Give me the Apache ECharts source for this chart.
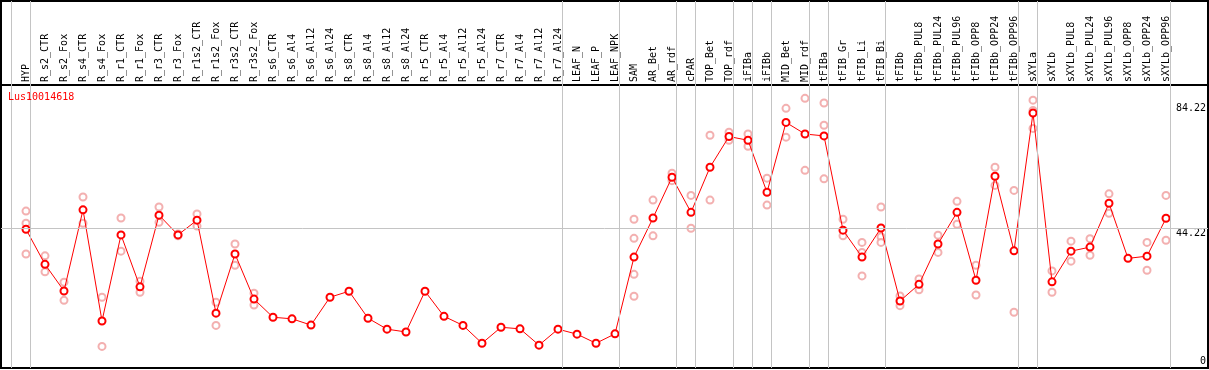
<!DOCTYPE html>
<html>
<head>
<meta charset="utf-8">
<script src="https://cdn.jsdelivr.net/npm/echarts@6/dist/echarts.min.js"></script>
<style>html,body{margin:0;padding:0;background:#fff}#c{width:1209px;height:370px}</style>
</head>
<body>
<div id="c"></div>
<script>
const categories = ["HYP","R_s2_CTR","R_s2_Fox","R_s4_CTR","R_s4_Fox","R_r1_CTR","R_r1_Fox","R_r3_CTR","R_r3_Fox","R_r1s2_CTR","R_r1s2_Fox","R_r3s2_CTR","R_r3s2_Fox","R_s6_CTR","R_s6_Al4","R_s6_Al12","R_s6_Al24","R_s8_CTR","R_s8_Al4","R_s8_Al12","R_s8_Al24","R_r5_CTR","R_r5_Al4","R_r5_Al12","R_r5_Al24","R_r7_CTR","R_r7_Al4","R_r7_Al12","R_r7_Al24","LEAF_N","LEAF_P","LEAF_NPK","SAM","AR_Bet","AR_rdf","cPAR","TOP_Bet","TOP_rdf","iFIBa","iFIBb","MID_Bet","MID_rdf","tFIBa","tFIB_Gr","tFIB_Li","tFIB_Bi","tFIBb","tFIBb_PUL8","tFIBb_PUL24","tFIBb_PUL96","tFIBb_OPP8","tFIBb_OPP24","tFIBb_OPP96","sXYLa","sXYLb","sXYLb_PUL8","sXYLb_PUL24","sXYLb_PUL96","sXYLb_OPP8","sXYLb_OPP24","sXYLb_OPP96"];
const means = [43.9,32.7,24.2,50.1,14.6,42.1,25.5,48.4,42.1,46.8,17.1,36.0,21.6,15.8,15.3,13.3,22.2,24.1,15.5,12.0,11.1,24.1,16.1,13.2,7.5,12.6,12.1,6.9,12.0,10.4,7.5,10.5,35.0,47.5,60.5,49.3,63.7,73.5,72.3,55.7,78.0,74.3,73.7,43.6,35.0,44.3,21.0,26.3,39.2,49.3,27.6,60.8,37.0,81.0,27.1,36.9,38.2,52.2,34.6,35.3,47.4];
const replicates = [[49.7,45.8,36.0],[35.4,30.3],[27.0,21.2],[54.2,45.8],[22.2,6.5],[47.5,36.9],[27.3,23.8],[51.0,46.1],[42.4,41.8],[48.8,44.9],[20.6,13.2],[39.2,32.4],[23.5,19.7],
[],[],[],[],[],[],[],[],[],[],[],[],[],[],[],[],[],[],[],
[47.1,41.0,29.5,22.5],[53.2,41.8],[61.8,59.4],[54.7,44.2],[73.9,53.2],[74.9,72.3],[74.3,70.4],[60.2,51.6],[82.5,73.3],[85.7,62.7],[84.2,77.1,60.0],[47.1,41.8],[39.7,36.5,29.0],[51.0,41.5,39.7],[22.6,19.5],[28.0,24.6],[42.0,36.5],[52.8,45.5],[32.4,22.9],[63.7,57.9],[56.3,17.4],[85.1,81.8,76.1],[30.6,23.8],[40.1,33.7],[40.9,35.6],[55.2,49.0],[],[39.7,30.8],[54.7,40.4]];
const yTicks = [0, 44.22, 84.22];
const refLine = 44.22;
const groupEnds = [-1,0,28,31,34,35,37,38,39,41,42,45,52,53,60];
const title = "Lus10014618";

const FONT = "DejaVu Sans Mono";
const idx = categories.map((c,i)=>i);
const xMin = -1.3158, xMax = 62.2105;
const sepLines = groupEnds.map(i => ({xAxis: i + 0.24}));
const gridLine = {color:'#c4c4c4', width:1, type:'solid'};

const chart = echarts.init(document.getElementById('c'), null, {renderer:'canvas'});
chart.setOption({
  animation:false,
  backgroundColor:'#fff',
  title:{text:title, left:3, top:87, textStyle:{color:'#ff0000', fontSize:10, fontWeight:'normal', fontFamily:FONT}},
  grid:[
    {left:1, right:1, top:85, bottom:2, show:true, borderColor:'#000', borderWidth:2, backgroundColor:'transparent'},
    {left:1, right:1, top:1, height:84, show:true, borderColor:'#000', borderWidth:2, backgroundColor:'transparent'}
  ],
  xAxis:[
    {type:'value', gridIndex:0, min:xMin, max:xMax, position:'top',
     axisLine:{show:false}, axisTick:{show:false}, splitLine:{show:false},
     axisLabel:{customValues:idx, formatter:v=>categories[Math.round(v)]||'', rotate:90, fontSize:10, fontFamily:FONT, color:'#000', margin:3}},
    {type:'value', gridIndex:1, min:xMin, max:xMax, show:false}
  ],
  yAxis:[
    {type:'value', gridIndex:0, position:'right', min:-0.4, max:89.95,
     axisLine:{show:false}, axisTick:{show:false}, splitLine:{show:false},
     axisLabel:{inside:true, customValues:yTicks, fontSize:10, fontFamily:FONT, color:'#000', margin:2,
       formatter:v => v === 0 ? '{b|0}' : '{t|' + v + '}',
       rich:{
         t:{fontSize:10, fontFamily:FONT, color:'#000', padding:[11,0,0,0]},
         b:{fontSize:10, fontFamily:FONT, color:'#000', padding:[0,0,10,0]}
       }}},
    {type:'value', gridIndex:1, min:0, max:1, show:false}
  ],
  series:[
    {type:'line', xAxisIndex:0, yAxisIndex:0, data:[], z:1, silent:true,
     markLine:{silent:true, symbol:['none','none'], label:{show:false}, lineStyle:gridLine,
       data:[...sepLines, {yAxis:refLine}]}},
    {type:'line', xAxisIndex:1, yAxisIndex:1, data:[], z:1, silent:true,
     markLine:{silent:true, symbol:['none','none'], label:{show:false}, lineStyle:gridLine, data:sepLines}},
    {type:'scatter', xAxisIndex:0, yAxisIndex:0, z:3, symbol:'emptyCircle', symbolSize:7,
     itemStyle:{color:'#f09c9c', borderColor:'#f09c9c', borderWidth:1.5},
     data: replicates.flatMap((r,i)=>r.map(v=>[i,v]))},
    {type:'line', xAxisIndex:0, yAxisIndex:0, z:4, symbol:'emptyCircle', symbolSize:7,
     lineStyle:{color:'#ff0000', width:1}, itemStyle:{color:'#ff0000', borderColor:'#ff0000', borderWidth:1.5},
     data: means.map((v,i)=>[i,v])}
  ]
});
</script>
</body>
</html>
